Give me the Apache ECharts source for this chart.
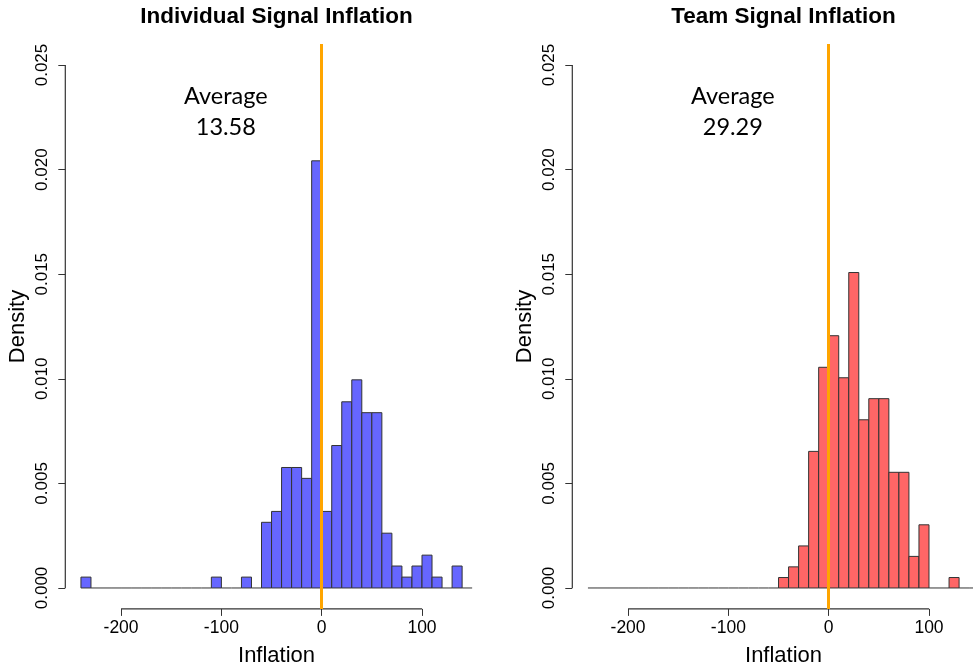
<!DOCTYPE html>
<html>
<head>
<meta charset="utf-8">
<script src="https://cdn.jsdelivr.net/npm/echarts@6/dist/echarts.min.js"></script>
<style>
  html, body { margin: 0; padding: 0; background: #fff; }
  #main { width: 973px; height: 666px; }
</style>
</head>
<body>
<div id="main"></div>
<script>
// lower edge of each histogram bin (width 10)
var binStarts = [-240, -230, -220, -210, -200, -190, -180, -170, -160, -150,
  -140, -130, -120, -110, -100, -90, -80, -70, -60, -50,
  -40, -30, -20, -10, 0, 10, 20, 30, 40, 50,
  60, 70, 80, 90, 100, 110, 120, 130, 140];
var binWidth = 10;

// densities
var individualDensity = [0.00052, 0, 0, 0, 0, 0, 0, 0, 0, 0,
  0, 0, 0, 0.00052, 0, 0, 0.00052, 0, 0.00314, 0.00366,
  0.00576, 0.00576, 0.00524, 0.02042, 0.00366, 0.00681, 0.00890, 0.00995, 0.00838, 0.00838,
  0.00262, 0.00105, 0.00052, 0.00105, 0.00157, 0.00052, 0, 0.00105, 0];
var teamDensity = [0, 0, 0, 0, 0, 0, 0, 0, 0, 0,
  0, 0, 0, 0, 0, 0, 0, 0, 0, 0.00050,
  0.00101, 0.00201, 0.00653, 0.01055, 0.01206, 0.01005, 0.01508, 0.00804, 0.00905, 0.00905,
  0.00553, 0.00553, 0.00151, 0.00302, 0, 0, 0.00050, 0, 0];

var xTicks = [-200, -100, 0, 100];
var yTicks = [0, 0.005, 0.010, 0.015, 0.020, 0.025];
var averages = ['13.58', '29.29'];
var titles = ['Individual Signal Inflation', 'Team Signal Inflation'];

var xMin = -255.6, xMax = 165.6;
var yMin = -0.001, yMax = 0.026;
var axisColor = '#333';
var font = 'Liberation Sans, Arial, sans-serif';

var chart = echarts.init(document.getElementById('main'));

function histItem(color) {
  return function (params, api) {
    var x0 = api.value(0), d = api.value(1);
    var top = api.coord([x0, d]);
    var bot = api.coord([x0 + binWidth, 0]);
    if (d === 0) {
      return {
        type: 'line',
        shape: { x1: top[0], y1: bot[1], x2: bot[0], y2: bot[1] },
        style: { stroke: axisColor, lineWidth: 1 }
      };
    }
    return {
      type: 'rect',
      shape: { x: top[0], y: top[1], width: bot[0] - top[0], height: bot[1] - top[1] },
      style: { fill: color, stroke: axisColor, lineWidth: 1 }
    };
  };
}

// R style axis lines: only from first to last tick
function axisLines(params, api) {
  var xa = api.coord([xTicks[0], yMin]);
  var xb = api.coord([xTicks[xTicks.length - 1], yMin]);
  var ya = api.coord([xMin, yTicks[0]]);
  var yb = api.coord([xMin, yTicks[yTicks.length - 1]]);
  return {
    type: 'group',
    children: [
      { type: 'line', shape: { x1: xa[0], y1: xa[1], x2: xb[0], y2: xb[1] }, style: { stroke: axisColor, lineWidth: 1.2 } },
      { type: 'line', shape: { x1: ya[0], y1: ya[1], x2: yb[0], y2: yb[1] }, style: { stroke: axisColor, lineWidth: 1.2 } }
    ]
  };
}

var gridLefts = [65.3, 572.3];
var grids = [], xAxes = [], yAxes = [], series = [], graphics = [];
var densities = [individualDensity, teamDensity];
var colors = ['#6666FF', '#FF6666'];

for (var i = 0; i < 2; i++) {
  grids.push({ left: gridLefts[i], top: 44.1, width: 422.5, height: 564.8, containLabel: false, outerBoundsMode: 'none' });
  xAxes.push({
    type: 'value', gridIndex: i, min: xMin, max: xMax,
    axisLine: { show: false, onZero: false },
    splitLine: { show: false },
    axisTick: { customValues: xTicks, length: 7, lineStyle: { color: axisColor } },
    axisLabel: { customValues: xTicks, fontSize: 17.5, fontFamily: font, color: '#000', margin: 10 },
    name: 'Inflation', nameLocation: 'middle', nameGap: 36,
    nameTextStyle: { fontSize: 22, fontFamily: font, color: '#000' }
  });
  yAxes.push({
    type: 'value', gridIndex: i, min: yMin, max: yMax,
    axisLine: { show: false, onZero: false },
    splitLine: { show: false },
    axisTick: { customValues: yTicks, length: 7, lineStyle: { color: axisColor } },
    axisLabel: {
      customValues: yTicks, rotate: 90, fontSize: 17, fontFamily: font, color: '#000', margin: 14,
      formatter: function (v) { return v.toFixed(3); }
    },
    name: 'Density', nameLocation: 'middle', nameRotate: 90, nameGap: 36,
    nameTextStyle: { fontSize: 22, fontFamily: font, color: '#000' }
  });
  series.push({
    type: 'custom', xAxisIndex: i, yAxisIndex: i,
    renderItem: histItem(colors[i]),
    data: binStarts.map(function (b, k) { return [b, densities[i][k]]; }),
    markLine: {
      silent: true, symbol: 'none', label: { show: false },
      lineStyle: { color: '#FFA500', width: 3, type: 'solid' },
      data: [{ xAxis: 0 }]
    },
    z: 2
  });
  series.push({
    type: 'custom', xAxisIndex: i, yAxisIndex: i,
    renderItem: axisLines, data: [[0, 0]], clip: false, z: 3
  });
  var cx = gridLefts[i] + 422.5 / 2;
  graphics.push({
    type: 'text', x: cx, y: 17,
    style: { text: titles[i], align: 'center', verticalAlign: 'middle', textAlign: 'center', textVerticalAlign: 'middle',
      fontSize: 22.5, fontWeight: 'bold', fontFamily: font, fill: '#000' }
  });
  graphics.push({
    type: 'text', x: gridLefts[i] + 160.5, y: 112,
    style: { text: 'Average\n' + averages[i], align: 'center', verticalAlign: 'middle', textAlign: 'center', textVerticalAlign: 'middle',
      fontSize: 23.5, lineHeight: 31, fontFamily: 'Lato, sans-serif', fill: '#000' }
  });
}

chart.setOption({
  animation: false,
  backgroundColor: '#fff',
  grid: grids,
  xAxis: xAxes,
  yAxis: yAxes,
  series: series,
  graphic: graphics
});
</script>
</body>
</html>
